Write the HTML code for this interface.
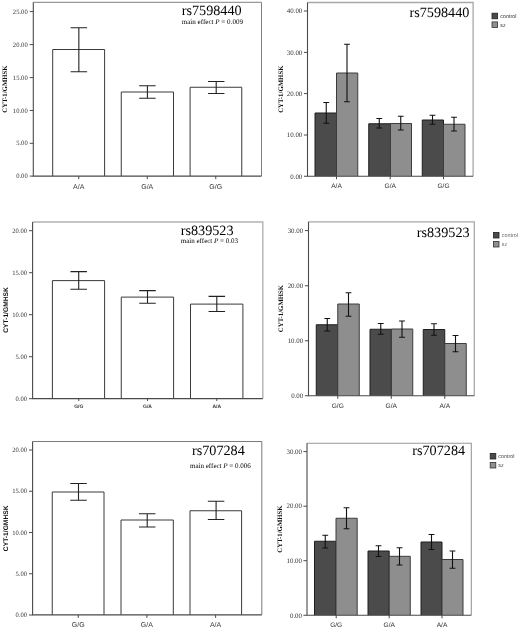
<!DOCTYPE html>
<html lang="en"><head><meta charset="utf-8"><title>CYT-1/GMHSK by genotype</title>
<style>
html,body{margin:0;padding:0;background:#fff;}
body{width:520px;height:629px;overflow:hidden;}
svg{display:block;will-change:transform;}
text{text-rendering:geometricPrecision;}
</style></head><body>
<svg width="520" height="629" viewBox="0 0 520 629">
<rect width="520" height="629" fill="#fff"/>
<path d="M52.7,176.1V49.5H104.6V176.1" fill="#fff" stroke="#3a3a3a" stroke-width="1"/>
<path d="M121.25,176.1V92H173.5V176.1" fill="#fff" stroke="#3a3a3a" stroke-width="1"/>
<path d="M190.1,176.1V87.25H241.75V176.1" fill="#fff" stroke="#3a3a3a" stroke-width="1"/>
<path d="M70.6,27.7H87.1M70.6,71.75H87.1M78.85,27.7V71.75" fill="none" stroke="#222" stroke-width="1.1"/>
<path d="M139.15,85.75H155.65M139.15,98.25H155.65M147.4,85.75V98.25" fill="none" stroke="#222" stroke-width="1.1"/>
<path d="M207.95,81.5H224.45M207.95,93.5H224.45M216.2,81.5V93.5" fill="none" stroke="#222" stroke-width="1.1"/>
<path d="M33.3,2.3H261.5V176.1" fill="none" stroke="#808080" stroke-width="1"/>
<path d="M33.3,2.3V176.1H261.5" fill="none" stroke="#4a4a4a" stroke-width="1.1"/>
<line x1="29.699999999999996" y1="176.1" x2="33.3" y2="176.1" stroke="#4a4a4a" stroke-width="1"/>
<text x="27.699999999999996" y="178.28" text-anchor="end" font-family='"Liberation Serif", serif' font-size="6.6" fill="#333">0.00</text>
<line x1="29.699999999999996" y1="143.3" x2="33.3" y2="143.3" stroke="#4a4a4a" stroke-width="1"/>
<text x="27.699999999999996" y="145.48" text-anchor="end" font-family='"Liberation Serif", serif' font-size="6.6" fill="#333">5.00</text>
<line x1="29.699999999999996" y1="110.5" x2="33.3" y2="110.5" stroke="#4a4a4a" stroke-width="1"/>
<text x="27.699999999999996" y="112.68" text-anchor="end" font-family='"Liberation Serif", serif' font-size="6.6" fill="#333">10.00</text>
<line x1="29.699999999999996" y1="77.6" x2="33.3" y2="77.6" stroke="#4a4a4a" stroke-width="1"/>
<text x="27.699999999999996" y="79.78" text-anchor="end" font-family='"Liberation Serif", serif' font-size="6.6" fill="#333">15.00</text>
<line x1="29.699999999999996" y1="44.6" x2="33.3" y2="44.6" stroke="#4a4a4a" stroke-width="1"/>
<text x="27.699999999999996" y="46.78" text-anchor="end" font-family='"Liberation Serif", serif' font-size="6.6" fill="#333">20.00</text>
<line x1="29.699999999999996" y1="11.6" x2="33.3" y2="11.6" stroke="#4a4a4a" stroke-width="1"/>
<text x="27.699999999999996" y="13.78" text-anchor="end" font-family='"Liberation Serif", serif' font-size="6.6" fill="#333">25.00</text>
<line x1="78.75" y1="176.1" x2="78.75" y2="179.1" stroke="#4a4a4a" stroke-width="1"/>
<text x="78.75" y="189.1" text-anchor="middle" font-family='"Liberation Sans", sans-serif' font-size="7" font-weight="normal" fill="#333">A/A</text>
<line x1="147.25" y1="176.1" x2="147.25" y2="179.1" stroke="#4a4a4a" stroke-width="1"/>
<text x="147.25" y="189.1" text-anchor="middle" font-family='"Liberation Sans", sans-serif' font-size="7" font-weight="normal" fill="#333">G/A</text>
<line x1="215.75" y1="176.1" x2="215.75" y2="179.1" stroke="#4a4a4a" stroke-width="1"/>
<text x="215.75" y="189.1" text-anchor="middle" font-family='"Liberation Sans", sans-serif' font-size="7" font-weight="normal" fill="#333">G/G</text>
<text transform="translate(7.4,89) rotate(-90)" text-anchor="middle" font-family='"Liberation Serif", serif' font-size="6.8" font-weight="bold" fill="#111">CYT-1/GMHSK</text>
<text x="181.75" y="15" text-anchor="start" font-family='"Liberation Serif", serif' font-size="14.2" fill="#000">rs7598440</text>
<text x="181.75" y="23.8" font-family='"Liberation Serif", serif' font-size="7.05" fill="#000">main effect <tspan font-style="italic">P</tspan> = 0.009</text>
<path d="M315,176.25V113H336.5V176.25" fill="#4b4b4b" stroke="#1e1e1e" stroke-width="1"/>
<path d="M336.5,176.25V73H357.75V176.25" fill="#8e8e8e" stroke="#3c3c3c" stroke-width="1"/>
<path d="M368.75,176.25V123.75H390.5V176.25" fill="#4b4b4b" stroke="#1e1e1e" stroke-width="1"/>
<path d="M390.5,176.25V123.5H411.5V176.25" fill="#8e8e8e" stroke="#3c3c3c" stroke-width="1"/>
<path d="M422.25,176.25V120H443.5V176.25" fill="#4b4b4b" stroke="#1e1e1e" stroke-width="1"/>
<path d="M443.5,176.25V124.25H465V176.25" fill="#8e8e8e" stroke="#3c3c3c" stroke-width="1"/>
<path d="M323.35,102.5H329.15M323.35,123.25H329.15M326.25,102.5V123.25" fill="none" stroke="#111" stroke-width="1.1"/>
<path d="M344.1,44.25H349.9M344.1,101.75H349.9M347,44.25V101.75" fill="none" stroke="#111" stroke-width="1.1"/>
<path d="M376.35,118.5H382.15M376.35,128H382.15M379.25,118.5V128" fill="none" stroke="#111" stroke-width="1.1"/>
<path d="M397.85,116.25H403.65M397.85,130H403.65M400.75,116.25V130" fill="none" stroke="#111" stroke-width="1.1"/>
<path d="M429.6,115.25H435.4M429.6,124.25H435.4M432.5,115.25V124.25" fill="none" stroke="#111" stroke-width="1.1"/>
<path d="M451.1,117.25H456.9M451.1,131H456.9M454,117.25V131" fill="none" stroke="#111" stroke-width="1.1"/>
<path d="M307.5,2.5H473.1V176.25" fill="none" stroke="#a8a8a8" stroke-width="1.3"/>
<path d="M307.5,2.5V176.25H473.1" fill="none" stroke="#4a4a4a" stroke-width="1.1"/>
<line x1="303.9" y1="176.25" x2="307.5" y2="176.25" stroke="#4a4a4a" stroke-width="1"/>
<text x="302.29999999999995" y="178.53" text-anchor="end" font-family='"Liberation Serif", serif' font-size="6.9" fill="#333">0.00</text>
<line x1="303.9" y1="135" x2="307.5" y2="135" stroke="#4a4a4a" stroke-width="1"/>
<text x="302.29999999999995" y="137.28" text-anchor="end" font-family='"Liberation Serif", serif' font-size="6.9" fill="#333">10.00</text>
<line x1="303.9" y1="93.6" x2="307.5" y2="93.6" stroke="#4a4a4a" stroke-width="1"/>
<text x="302.29999999999995" y="95.88" text-anchor="end" font-family='"Liberation Serif", serif' font-size="6.9" fill="#333">20.00</text>
<line x1="303.9" y1="52.4" x2="307.5" y2="52.4" stroke="#4a4a4a" stroke-width="1"/>
<text x="302.29999999999995" y="54.68" text-anchor="end" font-family='"Liberation Serif", serif' font-size="6.9" fill="#333">30.00</text>
<line x1="303.9" y1="11" x2="307.5" y2="11" stroke="#4a4a4a" stroke-width="1"/>
<text x="302.29999999999995" y="13.28" text-anchor="end" font-family='"Liberation Serif", serif' font-size="6.9" fill="#333">40.00</text>
<line x1="336.5" y1="176.25" x2="336.5" y2="179.25" stroke="#4a4a4a" stroke-width="1"/>
<text x="336.5" y="188.25" text-anchor="middle" font-family='"Liberation Sans", sans-serif' font-size="6.6" font-weight="normal" fill="#333">A/A</text>
<line x1="390.2" y1="176.25" x2="390.2" y2="179.25" stroke="#4a4a4a" stroke-width="1"/>
<text x="390.2" y="188.25" text-anchor="middle" font-family='"Liberation Sans", sans-serif' font-size="6.6" font-weight="normal" fill="#333">G/A</text>
<line x1="443.5" y1="176.25" x2="443.5" y2="179.25" stroke="#4a4a4a" stroke-width="1"/>
<text x="443.5" y="188.25" text-anchor="middle" font-family='"Liberation Sans", sans-serif' font-size="6.6" font-weight="normal" fill="#333">G/G</text>
<text transform="translate(282.5,89.2) rotate(-90)" text-anchor="middle" font-family='"Liberation Serif", serif' font-size="6.8" font-weight="bold" fill="#111">CYT-1/GMHSK</text>
<text x="469.4" y="16.75" text-anchor="end" font-family='"Liberation Serif", serif' font-size="14.2" fill="#000">rs7598440</text>
<rect x="492" y="13.2" width="5.6" height="5.6" fill="#4a4a4a" stroke="#222" stroke-width="0.8"/>
<rect x="492" y="21.9" width="5.6" height="5.6" fill="#8f8f8f" stroke="#333" stroke-width="0.8"/>
<text x="500.3" y="18.1" font-family='"Liberation Sans", sans-serif' font-size="5.4" fill="#333">control</text>
<text x="500.3" y="26.799999999999997" font-family='"Liberation Sans", sans-serif' font-size="5.4" fill="#333">sz</text>
<path d="M52.4,398.6V280.6H104.6V398.6" fill="#fff" stroke="#3a3a3a" stroke-width="1"/>
<path d="M121.25,398.6V297.1H173.6V398.6" fill="#fff" stroke="#3a3a3a" stroke-width="1"/>
<path d="M190.5,398.6V304.1H242.9V398.6" fill="#fff" stroke="#3a3a3a" stroke-width="1"/>
<path d="M70.45,271.6H86.95M70.45,289.3H86.95M78.7,271.6V289.3" fill="none" stroke="#222" stroke-width="1.1"/>
<path d="M139.25,290.6H155.75M139.25,303.3H155.75M147.5,290.6V303.3" fill="none" stroke="#222" stroke-width="1.1"/>
<path d="M208.55,296.4H225.05M208.55,311.5H225.05M216.8,296.4V311.5" fill="none" stroke="#222" stroke-width="1.1"/>
<path d="M32.6,222H262.8V398.6" fill="none" stroke="#b2b2b2" stroke-width="1.4"/>
<path d="M32.6,222V398.6H262.8" fill="none" stroke="#4a4a4a" stroke-width="1.1"/>
<line x1="29.0" y1="398.7" x2="32.6" y2="398.7" stroke="#4a4a4a" stroke-width="1"/>
<text x="27.0" y="400.88" text-anchor="end" font-family='"Liberation Serif", serif' font-size="6.6" fill="#333">0.00</text>
<line x1="29.0" y1="356.7" x2="32.6" y2="356.7" stroke="#4a4a4a" stroke-width="1"/>
<text x="27.0" y="358.88" text-anchor="end" font-family='"Liberation Serif", serif' font-size="6.6" fill="#333">5.00</text>
<line x1="29.0" y1="314.7" x2="32.6" y2="314.7" stroke="#4a4a4a" stroke-width="1"/>
<text x="27.0" y="316.88" text-anchor="end" font-family='"Liberation Serif", serif' font-size="6.6" fill="#333">10.00</text>
<line x1="29.0" y1="272.7" x2="32.6" y2="272.7" stroke="#4a4a4a" stroke-width="1"/>
<text x="27.0" y="274.88" text-anchor="end" font-family='"Liberation Serif", serif' font-size="6.6" fill="#333">15.00</text>
<line x1="29.0" y1="230.7" x2="32.6" y2="230.7" stroke="#4a4a4a" stroke-width="1"/>
<text x="27.0" y="232.88" text-anchor="end" font-family='"Liberation Serif", serif' font-size="6.6" fill="#333">20.00</text>
<line x1="78.75" y1="398.6" x2="78.75" y2="401.0" stroke="#4a4a4a" stroke-width="1"/>
<text x="78.75" y="408.1" text-anchor="middle" font-family='"Liberation Sans", sans-serif' font-size="5" font-weight="bold" fill="#333">G/G</text>
<line x1="147.5" y1="398.6" x2="147.5" y2="401.0" stroke="#4a4a4a" stroke-width="1"/>
<text x="147.5" y="408.1" text-anchor="middle" font-family='"Liberation Sans", sans-serif' font-size="5" font-weight="bold" fill="#333">G/A</text>
<line x1="216.75" y1="398.6" x2="216.75" y2="401.0" stroke="#4a4a4a" stroke-width="1"/>
<text x="216.75" y="408.1" text-anchor="middle" font-family='"Liberation Sans", sans-serif' font-size="5" font-weight="bold" fill="#333">A/A</text>
<text transform="translate(7.5,310) rotate(-90)" text-anchor="middle" font-family='"Liberation Sans", sans-serif' font-size="6.7" font-weight="bold" fill="#111">CYT-1/GMHSK</text>
<text x="180.75" y="234.5" text-anchor="start" font-family='"Liberation Serif", serif' font-size="14.2" fill="#000">rs839523</text>
<text x="180.75" y="243.3" font-family='"Liberation Serif", serif' font-size="7.0" fill="#000">main effect <tspan font-style="italic">P</tspan> = 0.03</text>
<path d="M316.25,395.8V324.75H337.75V395.8" fill="#4b4b4b" stroke="#1e1e1e" stroke-width="1"/>
<path d="M337.75,395.8V304H359.25V395.8" fill="#8e8e8e" stroke="#3c3c3c" stroke-width="1"/>
<path d="M370,395.8V329.25H391.4V395.8" fill="#4b4b4b" stroke="#1e1e1e" stroke-width="1"/>
<path d="M391.4,395.8V329H412.75V395.8" fill="#8e8e8e" stroke="#3c3c3c" stroke-width="1"/>
<path d="M423.25,395.8V329.5H444.75V395.8" fill="#4b4b4b" stroke="#1e1e1e" stroke-width="1"/>
<path d="M444.75,395.8V343.5H466.25V395.8" fill="#8e8e8e" stroke="#3c3c3c" stroke-width="1"/>
<path d="M324.35,318.5H330.15M324.35,331H330.15M327.25,318.5V331" fill="none" stroke="#111" stroke-width="1.1"/>
<path d="M345.6,292.75H351.4M345.6,316.25H351.4M348.5,292.75V316.25" fill="none" stroke="#111" stroke-width="1.1"/>
<path d="M377.85,323.5H383.65M377.85,334.25H383.65M380.75,323.5V334.25" fill="none" stroke="#111" stroke-width="1.1"/>
<path d="M399.1,321H404.9M399.1,337.25H404.9M402,321V337.25" fill="none" stroke="#111" stroke-width="1.1"/>
<path d="M431.1,323.75H436.9M431.1,335.25H436.9M434,323.75V335.25" fill="none" stroke="#111" stroke-width="1.1"/>
<path d="M452.6,335.5H458.4M452.6,351.75H458.4M455.5,335.5V351.75" fill="none" stroke="#111" stroke-width="1.1"/>
<path d="M308.5,221.8H474.3V395.8" fill="none" stroke="#a8a8a8" stroke-width="1.3"/>
<path d="M308.5,221.8V395.8H474.3" fill="none" stroke="#4a4a4a" stroke-width="1.1"/>
<line x1="304.9" y1="395.75" x2="308.5" y2="395.75" stroke="#4a4a4a" stroke-width="1"/>
<text x="303.2" y="398.03" text-anchor="end" font-family='"Liberation Serif", serif' font-size="6.9" fill="#333">0.00</text>
<line x1="304.9" y1="340.75" x2="308.5" y2="340.75" stroke="#4a4a4a" stroke-width="1"/>
<text x="303.2" y="343.03" text-anchor="end" font-family='"Liberation Serif", serif' font-size="6.9" fill="#333">10.00</text>
<line x1="304.9" y1="285.75" x2="308.5" y2="285.75" stroke="#4a4a4a" stroke-width="1"/>
<text x="303.2" y="288.03" text-anchor="end" font-family='"Liberation Serif", serif' font-size="6.9" fill="#333">20.00</text>
<line x1="304.9" y1="230.6" x2="308.5" y2="230.6" stroke="#4a4a4a" stroke-width="1"/>
<text x="303.2" y="232.88" text-anchor="end" font-family='"Liberation Serif", serif' font-size="6.9" fill="#333">30.00</text>
<line x1="337.75" y1="395.8" x2="337.75" y2="398.8" stroke="#4a4a4a" stroke-width="1"/>
<text x="337.75" y="407.5" text-anchor="middle" font-family='"Liberation Sans", sans-serif' font-size="6.6" font-weight="normal" fill="#333">G/G</text>
<line x1="391.3" y1="395.8" x2="391.3" y2="398.8" stroke="#4a4a4a" stroke-width="1"/>
<text x="391.3" y="407.5" text-anchor="middle" font-family='"Liberation Sans", sans-serif' font-size="6.6" font-weight="normal" fill="#333">G/A</text>
<line x1="444.75" y1="395.8" x2="444.75" y2="398.8" stroke="#4a4a4a" stroke-width="1"/>
<text x="444.75" y="407.5" text-anchor="middle" font-family='"Liberation Sans", sans-serif' font-size="6.6" font-weight="normal" fill="#333">A/A</text>
<text transform="translate(283.3,308.5) rotate(-90)" text-anchor="middle" font-family='"Liberation Serif", serif' font-size="6.8" font-weight="bold" fill="#111">CYT-1/GMHSK</text>
<text x="469.6" y="236.75" text-anchor="end" font-family='"Liberation Serif", serif' font-size="14.2" fill="#000">rs839523</text>
<rect x="493.4" y="232.4" width="5.6" height="5.6" fill="#4a4a4a" stroke="#222" stroke-width="0.8"/>
<rect x="493.4" y="241.4" width="5.6" height="5.6" fill="#8f8f8f" stroke="#333" stroke-width="0.8"/>
<text x="501.8" y="237.3" font-family='"Liberation Sans", sans-serif' font-size="5.4" fill="#666">control</text>
<text x="501.8" y="246.3" font-family='"Liberation Sans", sans-serif' font-size="5.4" fill="#666">sz</text>
<path d="M52.25,614.9V492H104V614.9" fill="#fff" stroke="#3a3a3a" stroke-width="1"/>
<path d="M121,614.9V520H173.3V614.9" fill="#fff" stroke="#3a3a3a" stroke-width="1"/>
<path d="M190,614.9V510.75H241.6V614.9" fill="#fff" stroke="#3a3a3a" stroke-width="1"/>
<path d="M70.25,483.5H86.75M70.25,500.25H86.75M78.5,483.5V500.25" fill="none" stroke="#222" stroke-width="1.1"/>
<path d="M138.95,513.75H155.45M138.95,527H155.45M147.2,513.75V527" fill="none" stroke="#222" stroke-width="1.1"/>
<path d="M207.85,501.25H224.35M207.85,519.5H224.35M216.1,501.25V519.5" fill="none" stroke="#222" stroke-width="1.1"/>
<path d="M32.6,441.5H261.8V614.9" fill="none" stroke="#7a7a7a" stroke-width="1"/>
<path d="M32.6,441.5V614.9H261.8" fill="none" stroke="#4a4a4a" stroke-width="1.1"/>
<line x1="29.0" y1="615" x2="32.6" y2="615" stroke="#4a4a4a" stroke-width="1"/>
<text x="27.0" y="617.18" text-anchor="end" font-family='"Liberation Serif", serif' font-size="6.6" fill="#333">0.00</text>
<line x1="29.0" y1="573.75" x2="32.6" y2="573.75" stroke="#4a4a4a" stroke-width="1"/>
<text x="27.0" y="575.93" text-anchor="end" font-family='"Liberation Serif", serif' font-size="6.6" fill="#333">5.00</text>
<line x1="29.0" y1="532.5" x2="32.6" y2="532.5" stroke="#4a4a4a" stroke-width="1"/>
<text x="27.0" y="534.68" text-anchor="end" font-family='"Liberation Serif", serif' font-size="6.6" fill="#333">10.00</text>
<line x1="29.0" y1="491.25" x2="32.6" y2="491.25" stroke="#4a4a4a" stroke-width="1"/>
<text x="27.0" y="493.43" text-anchor="end" font-family='"Liberation Serif", serif' font-size="6.6" fill="#333">15.00</text>
<line x1="29.0" y1="450" x2="32.6" y2="450" stroke="#4a4a4a" stroke-width="1"/>
<text x="27.0" y="452.18" text-anchor="end" font-family='"Liberation Serif", serif' font-size="6.6" fill="#333">20.00</text>
<line x1="78.25" y1="614.9" x2="78.25" y2="617.9" stroke="#4a4a4a" stroke-width="1"/>
<text x="78.25" y="627.1" text-anchor="middle" font-family='"Liberation Sans", sans-serif' font-size="7" font-weight="normal" fill="#333">G/G</text>
<line x1="146.9" y1="614.9" x2="146.9" y2="617.9" stroke="#4a4a4a" stroke-width="1"/>
<text x="146.9" y="627.1" text-anchor="middle" font-family='"Liberation Sans", sans-serif' font-size="7" font-weight="normal" fill="#333">G/A</text>
<line x1="215.6" y1="614.9" x2="215.6" y2="617.9" stroke="#4a4a4a" stroke-width="1"/>
<text x="215.6" y="627.1" text-anchor="middle" font-family='"Liberation Sans", sans-serif' font-size="7" font-weight="normal" fill="#333">A/A</text>
<text transform="translate(7.5,528.3) rotate(-90)" text-anchor="middle" font-family='"Liberation Sans", sans-serif' font-size="6.7" font-weight="bold" fill="#111">CYT-1/GMHSK</text>
<text x="192" y="455" text-anchor="start" font-family='"Liberation Serif", serif' font-size="14.2" fill="#000">rs707284</text>
<text x="190" y="467.6" font-family='"Liberation Serif", serif' font-size="7.0" fill="#000">main effect <tspan font-style="italic">P</tspan> = 0.006</text>
<path d="M314.5,615.3V541.25H336V615.3" fill="#4b4b4b" stroke="#1e1e1e" stroke-width="1"/>
<path d="M336,615.3V518.25H357.2V615.3" fill="#8e8e8e" stroke="#3c3c3c" stroke-width="1"/>
<path d="M368,615.3V551H389.2V615.3" fill="#4b4b4b" stroke="#1e1e1e" stroke-width="1"/>
<path d="M389.2,615.3V556.3H410.25V615.3" fill="#8e8e8e" stroke="#3c3c3c" stroke-width="1"/>
<path d="M421,615.3V542H442V615.3" fill="#4b4b4b" stroke="#1e1e1e" stroke-width="1"/>
<path d="M442,615.3V559.5H463V615.3" fill="#8e8e8e" stroke="#3c3c3c" stroke-width="1"/>
<path d="M322.35,535.25H328.15M322.35,548H328.15M325.25,535.25V548" fill="none" stroke="#111" stroke-width="1.1"/>
<path d="M343.6,507.75H349.4M343.6,528.75H349.4M346.5,507.75V528.75" fill="none" stroke="#111" stroke-width="1.1"/>
<path d="M375.6,545.75H381.4M375.6,556.5H381.4M378.5,545.75V556.5" fill="none" stroke="#111" stroke-width="1.1"/>
<path d="M396.6,547.75H402.4M396.6,565H402.4M399.5,547.75V565" fill="none" stroke="#111" stroke-width="1.1"/>
<path d="M428.6,534.5H434.4M428.6,549.5H434.4M431.5,534.5V549.5" fill="none" stroke="#111" stroke-width="1.1"/>
<path d="M449.6,551H455.4M449.6,568.25H455.4M452.5,551V568.25" fill="none" stroke="#111" stroke-width="1.1"/>
<path d="M307,443.3H471.3V615.3" fill="none" stroke="#989898" stroke-width="1.1"/>
<path d="M307,443.3V615.3H471.3" fill="none" stroke="#4a4a4a" stroke-width="1.1"/>
<line x1="303.4" y1="615.25" x2="307" y2="615.25" stroke="#4a4a4a" stroke-width="1"/>
<text x="302.0" y="617.53" text-anchor="end" font-family='"Liberation Serif", serif' font-size="6.9" fill="#333">0.00</text>
<line x1="303.4" y1="560.7" x2="307" y2="560.7" stroke="#4a4a4a" stroke-width="1"/>
<text x="302.0" y="562.98" text-anchor="end" font-family='"Liberation Serif", serif' font-size="6.9" fill="#333">10.00</text>
<line x1="303.4" y1="506.2" x2="307" y2="506.2" stroke="#4a4a4a" stroke-width="1"/>
<text x="302.0" y="508.48" text-anchor="end" font-family='"Liberation Serif", serif' font-size="6.9" fill="#333">20.00</text>
<line x1="303.4" y1="451.6" x2="307" y2="451.6" stroke="#4a4a4a" stroke-width="1"/>
<text x="302.0" y="453.88" text-anchor="end" font-family='"Liberation Serif", serif' font-size="6.9" fill="#333">30.00</text>
<line x1="336.2" y1="615.3" x2="336.2" y2="618.3" stroke="#4a4a4a" stroke-width="1"/>
<text x="336.2" y="627.3" text-anchor="middle" font-family='"Liberation Sans", sans-serif' font-size="6.6" font-weight="normal" fill="#333">G/G</text>
<line x1="389.2" y1="615.3" x2="389.2" y2="618.3" stroke="#4a4a4a" stroke-width="1"/>
<text x="389.2" y="627.3" text-anchor="middle" font-family='"Liberation Sans", sans-serif' font-size="6.6" font-weight="normal" fill="#333">G/A</text>
<line x1="442" y1="615.3" x2="442" y2="618.3" stroke="#4a4a4a" stroke-width="1"/>
<text x="442" y="627.3" text-anchor="middle" font-family='"Liberation Sans", sans-serif' font-size="6.6" font-weight="normal" fill="#333">A/A</text>
<text transform="translate(282.3,529) rotate(-90)" text-anchor="middle" font-family='"Liberation Serif", serif' font-size="6.8" font-weight="bold" fill="#111">CYT-1/GMHSK</text>
<text x="465.1" y="454.75" text-anchor="end" font-family='"Liberation Serif", serif' font-size="14.2" fill="#000">rs707284</text>
<rect x="490.2" y="453.4" width="5.6" height="5.6" fill="#4a4a4a" stroke="#222" stroke-width="0.8"/>
<rect x="490.2" y="462.4" width="5.6" height="5.6" fill="#8f8f8f" stroke="#333" stroke-width="0.8"/>
<text x="498.3" y="458.29999999999995" font-family='"Liberation Sans", sans-serif' font-size="5.4" fill="#444">control</text>
<text x="498.3" y="467.29999999999995" font-family='"Liberation Sans", sans-serif' font-size="5.4" fill="#444">sz</text>
</svg>
</body></html>
